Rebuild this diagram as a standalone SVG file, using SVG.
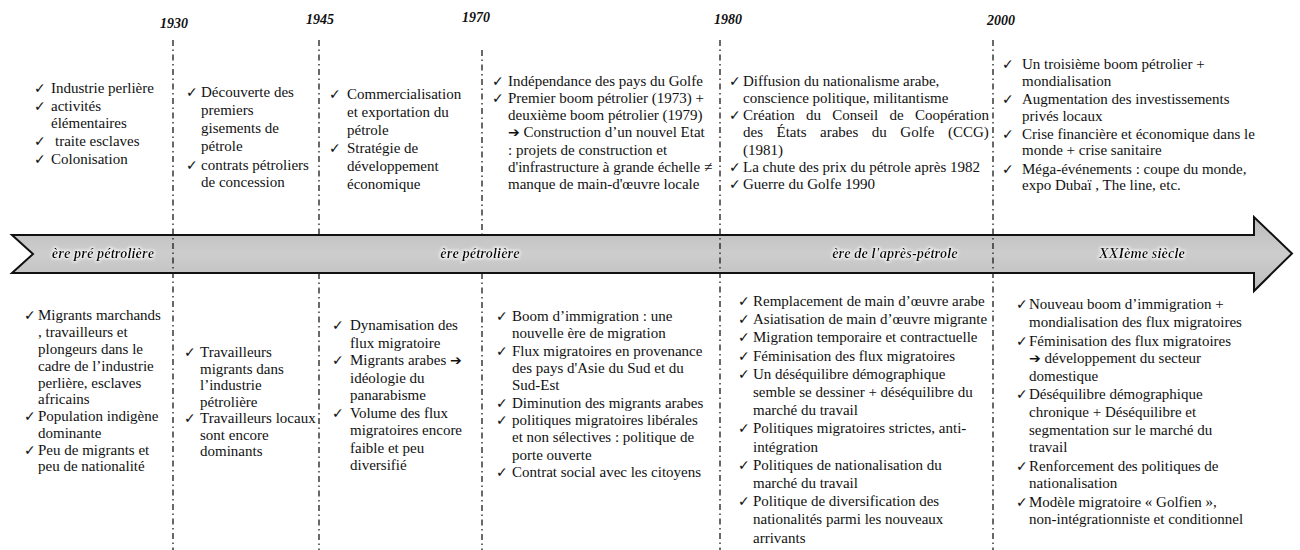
<svg xmlns="http://www.w3.org/2000/svg" width="1300" height="550" viewBox="0 0 1300 550">
<style>
  .t { font-family: "Liberation Serif", "Times New Roman", serif; font-size: 15px; fill: #111; }
  .ck { font-family: "DejaVu Sans", sans-serif; font-size: 14px; fill: #111; }
  .ar { font-family: "DejaVu Sans", sans-serif; font-size: 14px; font-weight: bold; fill: #111; }
  .yr { font-family: "Liberation Serif", "Times New Roman", serif; font-size: 14px; font-weight: bold; font-style: italic; fill: #111; }
  .era { font-family: "Liberation Serif", "Times New Roman", serif; font-size: 14.5px; font-weight: bold; font-style: italic; fill: #111; text-anchor: middle; }
  .dv { stroke: #1a1a1a; stroke-width: 1.3; stroke-dasharray: 6 3.5 1.5 3.5; fill: none; }
</style>
<defs>
  <linearGradient id="band" x1="0" y1="0" x2="0" y2="1">
    <stop offset="0" stop-color="#bcbcbc"/>
    <stop offset="0.5" stop-color="#cdcdcd"/>
    <stop offset="1" stop-color="#bcbcbc"/>
  </linearGradient>
  <filter id="glow" x="-20%" y="-60%" width="140%" height="220%">
    <feMorphology in="SourceAlpha" operator="dilate" radius="1" result="d"/>
    <feGaussianBlur in="d" stdDeviation="1.8" result="b"/>
    <feFlood flood-color="#ffffff" flood-opacity="0.8"/>
    <feComposite in2="b" operator="in" result="g"/>
    <feMerge><feMergeNode in="g"/><feMergeNode in="SourceGraphic"/></feMerge>
  </filter>
</defs>
<rect width="1300" height="550" fill="#ffffff"/>

<g id="timeline-arrow">
  <path d="M12,235 L1254,235 L1254,217 L1292,253.5 L1254,291 L1254,273 L12,273 L33,254 Z" fill="url(#band)" stroke="#111" stroke-width="2" stroke-linejoin="miter"/>
</g>

<g id="connectors">
  <line class="dv" x1="173" y1="40" x2="173" y2="550"/>
  <line class="dv" x1="319" y1="40" x2="319" y2="235"/>
  <line class="dv" x1="319" y1="273" x2="319" y2="550"/>
  <line class="dv" x1="482" y1="50" x2="482" y2="236"/>
  <line class="dv" x1="482" y1="273" x2="482" y2="550"/>
  <line class="dv" x1="720" y1="40" x2="720" y2="550"/>
  <line class="dv" x1="993" y1="40" x2="993" y2="550"/>
</g>

<g id="years">
  <text class="yr" x="160" y="28">1930</text>
  <text class="yr" x="306" y="24">1945</text>
  <text class="yr" x="462" y="22">1970</text>
  <text class="yr" x="714" y="24">1980</text>
  <text class="yr" x="987" y="25">2000</text>
</g>

<g id="eras" filter="url(#glow)">
  <text class="era" x="103" y="258">ère pré pétrolière</text>
  <text class="era" x="480" y="258">ère pétrolière</text>
  <text class="era" x="895" y="258">ère de l'après-pétrole</text>
  <text class="era" x="1142" y="258">XXIème siècle</text>
</g>

<g id="top-pre1930">
  <text class="ck" x="34" y="93">✓</text>
  <text class="ck" x="34" y="110.5">✓</text>
  <text class="ck" x="34" y="146">✓</text>
  <text class="ck" x="34" y="164">✓</text>
  <text class="t"><tspan x="51" y="93">Industrie perlière</tspan><tspan x="51" y="110.5">activités</tspan><tspan x="51" y="128">élémentaires</tspan><tspan x="55" y="146">traite esclaves</tspan><tspan x="51" y="164">Colonisation</tspan></text>
</g>

<g id="top-1930">
  <text class="ck" x="186" y="97">✓</text>
  <text class="ck" x="186" y="169.5">✓</text>
  <text class="t"><tspan x="201" y="97">Découverte des</tspan><tspan x="201" y="115">premiers</tspan><tspan x="201" y="133">gisements de</tspan><tspan x="201" y="151">pétrole</tspan><tspan x="201" y="169.5">contrats pétroliers</tspan><tspan x="201" y="187">de concession</tspan></text>
</g>

<g id="top-1945">
  <text class="ck" x="329" y="99">✓</text>
  <text class="ck" x="329" y="152.5">✓</text>
  <text class="t"><tspan x="347" y="99">Commercialisation</tspan><tspan x="347" y="117">et exportation du</tspan><tspan x="347" y="135">pétrole</tspan><tspan x="347" y="152.5">Stratégie de</tspan><tspan x="347" y="170.5">développement</tspan><tspan x="347" y="188.5">économique</tspan></text>
</g>

<g id="top-1970">
  <text class="ck" x="492" y="86">✓</text>
  <text class="ck" x="492" y="103">✓</text>
  <text class="t"><tspan x="508" y="86">Indépendance des pays du Golfe</tspan><tspan x="508" y="103">Premier boom pétrolier (1973) +</tspan><tspan x="508" y="120">deuxième boom pétrolier (1979)</tspan><tspan x="508" y="137"><tspan class="ar">➔</tspan> Construction d’un nouvel Etat</tspan><tspan x="508" y="154.5">: projets de construction et</tspan><tspan x="508" y="172">d'infrastructure à grande échelle ≠</tspan><tspan x="508" y="189">manque de main-d'œuvre locale</tspan></text>
</g>

<g id="top-1980">
  <text class="ck" x="729" y="86">✓</text>
  <text class="ck" x="729" y="120">✓</text>
  <text class="ck" x="729" y="172">✓</text>
  <text class="ck" x="729" y="189">✓</text>
  <text class="t"><tspan x="743" y="86">Diffusion du nationalisme arabe,</tspan><tspan x="743" y="103">conscience politique, militantisme</tspan></text>
  <text class="t"><tspan x="743" y="120">Création</tspan><tspan x="806" y="120">du</tspan><tspan x="832.3" y="120">Conseil</tspan><tspan x="889.4" y="120">de</tspan><tspan x="914.9" y="120">Coopération</tspan></text>
  <text class="t"><tspan x="743" y="137">des</tspan><tspan x="776.5" y="137">États</tspan><tspan x="820" y="137">arabes</tspan><tspan x="871.8" y="137">du</tspan><tspan x="900.3" y="137">Golfe</tspan><tspan x="948" y="137">(CCG)</tspan></text>
  <text class="t"><tspan x="743" y="154.5">(1981)</tspan><tspan x="743" y="172">La chute des prix du pétrole après 1982</tspan><tspan x="743" y="189">Guerre du Golfe 1990</tspan></text>
</g>

<g id="top-2000">
  <text class="ck" x="1002" y="69">✓</text>
  <text class="ck" x="1002" y="103.5">✓</text>
  <text class="ck" x="1002" y="138.5">✓</text>
  <text class="ck" x="1002" y="173.5">✓</text>
  <text class="t"><tspan x="1022" y="69">Un troisième boom pétrolier +</tspan><tspan x="1022" y="86">mondialisation</tspan><tspan x="1022" y="103.5">Augmentation des investissements</tspan><tspan x="1022" y="120.5">privés locaux</tspan><tspan x="1022" y="138.5">Crise financière et économique dans le</tspan><tspan x="1022" y="155">monde + crise sanitaire</tspan><tspan x="1022" y="173.5">Méga-événements : coupe du monde,</tspan><tspan x="1022" y="190">expo Dubaï , The line, etc.</tspan></text>
</g>

<g id="bottom-pre1930">
  <text class="ck" x="24" y="320">✓</text>
  <text class="ck" x="24" y="421">✓</text>
  <text class="ck" x="24" y="454.5">✓</text>
  <text class="t"><tspan x="38" y="320">Migrants marchands</tspan><tspan x="38" y="337">, travailleurs et</tspan><tspan x="38" y="354">plongeurs dans le</tspan><tspan x="38" y="370.5">cadre de l’industrie</tspan><tspan x="38" y="387.5">perlière, esclaves</tspan><tspan x="38" y="404">africains</tspan><tspan x="38" y="421">Population indigène</tspan><tspan x="38" y="437.5">dominante</tspan><tspan x="38" y="454.5">Peu de migrants et</tspan><tspan x="38" y="471">peu de nationalité</tspan></text>
</g>

<g id="bottom-1930">
  <text class="ck" x="184" y="357">✓</text>
  <text class="ck" x="184" y="423">✓</text>
  <text class="t"><tspan x="200" y="357">Travailleurs</tspan><tspan x="200" y="373.5">migrants dans</tspan><tspan x="200" y="390">l’industrie</tspan><tspan x="200" y="406.5">pétrolière</tspan><tspan x="200" y="423">Travailleurs locaux</tspan><tspan x="200" y="439.5">sont encore</tspan><tspan x="200" y="456">dominants</tspan></text>
</g>

<g id="bottom-1945">
  <text class="ck" x="332" y="330">✓</text>
  <text class="ck" x="332" y="365">✓</text>
  <text class="ck" x="332" y="417.5">✓</text>
  <text class="t"><tspan x="350" y="330">Dynamisation des</tspan><tspan x="350" y="347.5">flux migratoire</tspan><tspan x="350" y="365">Migrants arabes <tspan class="ar">➔</tspan></tspan><tspan x="350" y="382.5">idéologie du</tspan><tspan x="350" y="400">panarabisme</tspan><tspan x="350" y="417.5">Volume des flux</tspan><tspan x="350" y="435">migratoires encore</tspan><tspan x="350" y="452.5">faible et peu</tspan><tspan x="350" y="470">diversifié</tspan></text>
</g>

<g id="bottom-1970">
  <text class="ck" x="496" y="321">✓</text>
  <text class="ck" x="496" y="355.6">✓</text>
  <text class="ck" x="496" y="407.6">✓</text>
  <text class="ck" x="496" y="425">✓</text>
  <text class="ck" x="496" y="477">✓</text>
  <text class="t"><tspan x="512" y="321">Boom d’immigration : une</tspan><tspan x="512" y="338.3">nouvelle ère de migration</tspan><tspan x="512" y="355.6">Flux migratoires en provenance</tspan><tspan x="512" y="373">des pays d'Asie du Sud et du</tspan><tspan x="512" y="390.3">Sud-Est</tspan><tspan x="512" y="407.6">Diminution des migrants arabes</tspan><tspan x="512" y="425">politiques migratoires libérales</tspan><tspan x="512" y="442.3">et non sélectives : politique de</tspan><tspan x="512" y="459.6">porte ouverte</tspan><tspan x="512" y="477">Contrat social avec les citoyens</tspan></text>
</g>

<g id="bottom-1980">
  <text class="ck" x="738" y="306">✓</text>
  <text class="ck" x="738" y="324.2">✓</text>
  <text class="ck" x="738" y="342.4">✓</text>
  <text class="ck" x="738" y="360.6">✓</text>
  <text class="ck" x="738" y="378.8">✓</text>
  <text class="ck" x="738" y="433.4">✓</text>
  <text class="ck" x="738" y="469.8">✓</text>
  <text class="ck" x="738" y="506.2">✓</text>
  <text class="t"><tspan x="753" y="306">Remplacement de main d’œuvre arabe</tspan><tspan x="753" y="324.2">Asiatisation de main d’œuvre migrante</tspan><tspan x="753" y="342.4">Migration temporaire et contractuelle</tspan><tspan x="753" y="360.6">Féminisation des flux migratoires</tspan><tspan x="753" y="378.8">Un déséquilibre démographique</tspan><tspan x="753" y="397">semble se dessiner + déséquilibre du</tspan><tspan x="753" y="415.2">marché du travail</tspan><tspan x="753" y="433.4">Politiques migratoires strictes, anti-</tspan><tspan x="753" y="451.6">intégration</tspan><tspan x="753" y="469.8">Politiques de nationalisation du</tspan><tspan x="753" y="488">marché du travail</tspan><tspan x="753" y="506.2">Politique de diversification des</tspan><tspan x="753" y="524.4">nationalités parmi les nouveaux</tspan><tspan x="753" y="542.6">arrivants</tspan></text>
</g>

<g id="bottom-2000">
  <text class="ck" x="1016" y="309">✓</text>
  <text class="ck" x="1016" y="345.5">✓</text>
  <text class="ck" x="1016" y="399">✓</text>
  <text class="ck" x="1016" y="470.5">✓</text>
  <text class="ck" x="1016" y="506.5">✓</text>
  <text class="t"><tspan x="1029" y="309">Nouveau boom d’immigration +</tspan><tspan x="1029" y="327">mondialisation des flux migratoires</tspan><tspan x="1029" y="345.5">Féminisation des flux migratoires</tspan><tspan x="1029" y="363"><tspan class="ar">➔</tspan> développement du secteur</tspan><tspan x="1029" y="380.5">domestique</tspan><tspan x="1029" y="399">Déséquilibre démographique</tspan><tspan x="1029" y="416.5">chronique + Déséquilibre et</tspan><tspan x="1029" y="434.5">segmentation sur le marché du</tspan><tspan x="1029" y="452">travail</tspan><tspan x="1029" y="470.5">Renforcement des politiques de</tspan><tspan x="1029" y="488">nationalisation</tspan><tspan x="1029" y="506.5">Modèle migratoire « Golfien »,</tspan><tspan x="1029" y="524">non-intégrationniste et conditionnel</tspan></text>
</g>
</svg>
